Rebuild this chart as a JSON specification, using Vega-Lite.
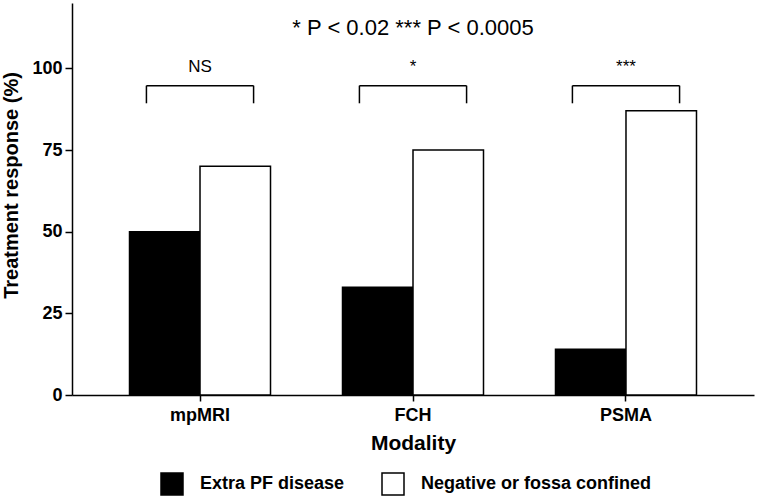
{
  "$schema": "https://vega.github.io/schema/vega-lite/v6.json",
  "width": 682,
  "height": 392,
  "autosize": {"type": "none"},
  "padding": {"left": 72, "top": 3, "right": 3, "bottom": 101},
  "background": "white",
  "title": {
    "text": "* P < 0.02 *** P < 0.0005",
    "font": "Liberation Sans",
    "fontSize": 22,
    "fontWeight": "normal",
    "color": "black",
    "anchor": "middle",
    "frame": "group",
    "offset": -37
  },
  "config": {
    "font": "Liberation Sans",
    "view": {"stroke": null},
    "axis": {
      "domainColor": "black",
      "domainWidth": 1.5,
      "tickColor": "black",
      "tickWidth": 1.5,
      "labelColor": "black",
      "labelFontWeight": "bold",
      "labelFontSize": 18,
      "titleColor": "black",
      "titleFontWeight": "bold",
      "grid": false
    }
  },
  "datasets": {
    "bars": [
      {"modality": "mpMRI", "group": "Extra PF disease", "value": 50},
      {"modality": "mpMRI", "group": "Negative or fossa confined", "value": 70},
      {"modality": "FCH", "group": "Extra PF disease", "value": 33},
      {"modality": "FCH", "group": "Negative or fossa confined", "value": 75},
      {"modality": "PSMA", "group": "Extra PF disease", "value": 14},
      {"modality": "PSMA", "group": "Negative or fossa confined", "value": 87}
    ],
    "brackets": [
      {"modality": "mpMRI", "label": "NS", "top": 94.7, "bottom": 89.3, "labelY": 99},
      {"modality": "FCH", "label": "*", "top": 94.7, "bottom": 89.3, "labelY": 99},
      {"modality": "PSMA", "label": "***", "top": 94.7, "bottom": 89.3, "labelY": 99}
    ]
  },
  "layer": [
    {
      "data": {"name": "bars"},
      "mark": {"type": "bar", "stroke": "black", "strokeWidth": 1.5},
      "encoding": {
        "x": {
          "field": "modality",
          "type": "nominal",
          "sort": ["mpMRI", "FCH", "PSMA"],
          "scale": {"paddingInner": 0.338, "paddingOuter": 0.27},
          "title": "Modality",
          "axis": {"labelAngle": 0, "tickSize": 6, "labelPadding": 5, "titleFontSize": 21, "titlePadding": 8}
        },
        "xOffset": {"field": "group", "type": "nominal", "scale": {"paddingInner": 0, "paddingOuter": 0}},
        "y": {
          "field": "value",
          "type": "quantitative",
          "scale": {"domain": [0, 120], "nice": false},
          "title": "Treatment response (%)",
          "axis": {"values": [0, 25, 50, 75, 100], "tickSize": 7, "labelPadding": 3, "titleFontSize": 20, "titleX": -61, "titleY": 182, "titleBaseline": "middle"}
        },
        "fill": {
          "field": "group",
          "type": "nominal",
          "scale": {"domain": ["Extra PF disease", "Negative or fossa confined"], "range": ["#000000", "#ffffff"]},
          "legend": {
            "orient": "none",
            "legendX": 88,
            "legendY": 469,
            "direction": "horizontal",
            "title": null,
            "padding": 0,
            "symbolType": "square",
            "symbolSize": 484,
            "symbolStrokeColor": "black",
            "symbolStrokeWidth": 1.5,
            "symbolOpacity": 1,
            "labelFontSize": 18,
            "labelFontWeight": "bold",
            "labelColor": "black",
            "labelLimit": 400,
            "labelOffset": 16,
            "columnPadding": 34
          }
        }
      }
    },
    {
      "data": {"name": "brackets"},
      "mark": {"type": "rule", "color": "black", "strokeWidth": 1.5},
      "encoding": {
        "x": {"field": "modality", "type": "nominal", "sort": ["mpMRI", "FCH", "PSMA"], "bandPosition": 0.12, "title": "Modality"},
        "x2": {"field": "modality", "bandPosition": 0.88},
        "y": {"field": "top", "type": "quantitative", "title": "Treatment response (%)"}
      }
    },
    {
      "data": {"name": "brackets"},
      "mark": {"type": "rule", "color": "black", "strokeWidth": 1.5},
      "encoding": {
        "x": {"field": "modality", "type": "nominal", "sort": ["mpMRI", "FCH", "PSMA"], "bandPosition": 0.12, "title": "Modality"},
        "y": {"field": "top", "type": "quantitative", "title": "Treatment response (%)"},
        "y2": {"field": "bottom"}
      }
    },
    {
      "data": {"name": "brackets"},
      "mark": {"type": "rule", "color": "black", "strokeWidth": 1.5},
      "encoding": {
        "x": {"field": "modality", "type": "nominal", "sort": ["mpMRI", "FCH", "PSMA"], "bandPosition": 0.88, "title": "Modality"},
        "y": {"field": "top", "type": "quantitative", "title": "Treatment response (%)"},
        "y2": {"field": "bottom"}
      }
    },
    {
      "data": {"name": "brackets"},
      "mark": {"type": "text", "fontSize": 17, "font": "Liberation Sans", "baseline": "alphabetic", "color": "black"},
      "encoding": {
        "x": {"field": "modality", "type": "nominal", "sort": ["mpMRI", "FCH", "PSMA"], "title": "Modality"},
        "y": {"field": "labelY", "type": "quantitative", "title": "Treatment response (%)"},
        "text": {"field": "label"}
      }
    }
  ]
}
